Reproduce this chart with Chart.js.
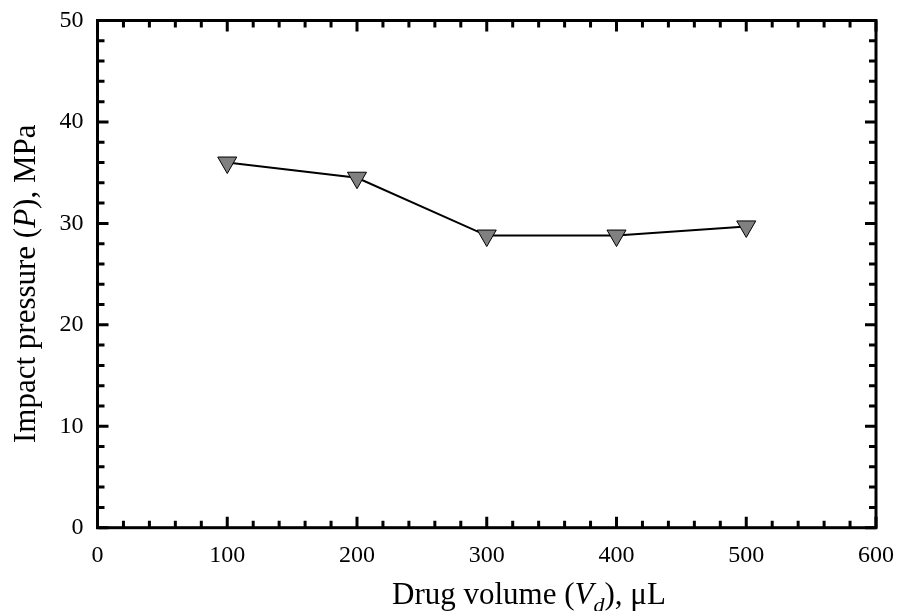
<!DOCTYPE html>
<html>
<head>
<meta charset="utf-8">
<script src="https://cdn.jsdelivr.net/npm/chart.js@4/dist/chart.umd.min.js"></script>
<style>
  html, body { margin: 0; padding: 0; background: #fff; }
  #wrap { width: 898px; height: 611px; position: relative; }
</style>
</head>
<body>
<div id="wrap"><canvas id="impact-chart"></canvas></div>
<script>
// data
const volumes = [100, 200, 300, 400, 500];          // drug volume, uL
const pressures = [36.0, 34.5, 28.8, 28.8, 29.7];   // impact pressure, MPa
const xTickValues = [0, 100, 200, 300, 400, 500, 600];
const yTickValues = [0, 10, 20, 30, 40, 50];
const xMinorStep = 20;
const yMinorStep = 2;

const serif = "'Liberation Serif', 'Times New Roman', serif";

// axis titles have italic / subscript parts, so draw them as text runs
const xTitle = [
    { t: "Drug volume (" },
    { t: "V", italic: true },
    { t: "d", italic: true, sub: true },
    { t: "), \u03bcL" }
];
const yTitle = [
    { t: "Impact pressure (" },
    { t: "P", italic: true },
    { t: "), MPa" }
];

function runFont(r, size) {
    const s = r.sub ? Math.round(size * 0.7) : size;
    return (r.italic ? "italic " : "") + s + "px " + serif;
}

// draws from (0,0) to the right, baseline at 0
function drawRuns(ctx, runs, size) {
    let x = 0;
    runs.forEach(r => {
        ctx.font = runFont(r, size);
        ctx.fillText(r.t, x, r.sub ? size * 0.25 : 0);
        x += ctx.measureText(r.t).width;
    });
}

// drop the label overhang padding, the layout padding below handles it
function noOverhang(s) {
    s.paddingTop = 0; s.paddingBottom = 0;
    s.paddingLeft = 0; s.paddingRight = 0;
}

// box frame with inward ticks on all four sides + axis titles
const framePlugin = {
    id: "frame",
    afterDraw(chart) {
        const { ctx, chartArea: a, scales } = chart;
        const xs = scales.x, ys = scales.y;
        ctx.save();
        ctx.strokeStyle = "#000";
        ctx.lineWidth = 3;
        ctx.lineCap = "butt";

        // x ticks (bottom and top)
        for (let v = xs.min; v <= xs.max; v += xMinorStep) {
            const px = xs.getPixelForValue(v);
            const len = xTickValues.includes(v) ? 11 : 7;
            ctx.beginPath();
            ctx.moveTo(px, a.bottom); ctx.lineTo(px, a.bottom - len);
            ctx.moveTo(px, a.top); ctx.lineTo(px, a.top + len);
            ctx.stroke();
        }
        // y ticks (left and right)
        for (let v = ys.min; v <= ys.max; v += yMinorStep) {
            const py = ys.getPixelForValue(v);
            const len = yTickValues.includes(v) ? 11 : 7;
            ctx.beginPath();
            ctx.moveTo(a.left, py); ctx.lineTo(a.left + len, py);
            ctx.moveTo(a.right, py); ctx.lineTo(a.right - len, py);
            ctx.stroke();
        }
        ctx.strokeRect(a.left, a.top, a.right - a.left, a.bottom - a.top);

        // titles
        ctx.fillStyle = "#000";
        ctx.textBaseline = "alphabetic";
        ctx.textAlign = "left";
        ctx.save();
        ctx.translate(392, 604);
        drawRuns(ctx, xTitle, 31);
        ctx.restore();
        ctx.save();
        ctx.translate(35, 443);
        ctx.rotate(-Math.PI / 2);
        drawRuns(ctx, yTitle, 31);
        ctx.restore();
        ctx.restore();
    }
};

document.addEventListener("DOMContentLoaded", () => {
    const canvas = document.getElementById("impact-chart");

    new Chart(canvas, {
        type: "line",
        data: {
            datasets: [{
                data: volumes.map((v, i) => ({ x: v, y: pressures[i] })),
                borderColor: "#000",
                borderWidth: 2,
                tension: 0,
                pointStyle: "triangle",
                rotation: 180, // point down
                pointRadius: 11,
                pointHoverRadius: 11,
                pointBackgroundColor: "#808080",
                pointBorderColor: "#000",
                pointBorderWidth: 1,
                clip: false
            }]
        },
        options: {
            responsive: true,
            maintainAspectRatio: false,
            animation: false,
            layout: { padding: { top: 20.5, right: 22, left: 0, bottom: 0 } },
            plugins: {
                legend: { display: false },
                tooltip: { enabled: false }
            },
            scales: {
                x: {
                    type: "linear",
                    min: 0,
                    max: 600,
                    grid: { display: false, drawTicks: false },
                    border: { display: false },
                    afterBuildTicks: s => { s.ticks = xTickValues.map(v => ({ value: v })); },
                    afterFit: s => { s.height = 611 - 527.7; noOverhang(s); },
                    ticks: {
                        padding: 14,
                        color: "#000",
                        maxRotation: 0,
                        autoSkip: false,
                        font: { family: serif, size: 24 }
                    }
                },
                y: {
                    min: 0,
                    max: 50,
                    grid: { display: false, drawTicks: false },
                    border: { display: false },
                    afterBuildTicks: s => { s.ticks = yTickValues.map(v => ({ value: v })); },
                    afterFit: s => { s.width = 97.5; noOverhang(s); },
                    ticks: {
                        padding: 14,
                        color: "#000",
                        autoSkip: false,
                        font: { family: serif, size: 24 }
                    }
                }
            }
        },
        plugins: [framePlugin]
    });
});
</script>
</body>
</html>
